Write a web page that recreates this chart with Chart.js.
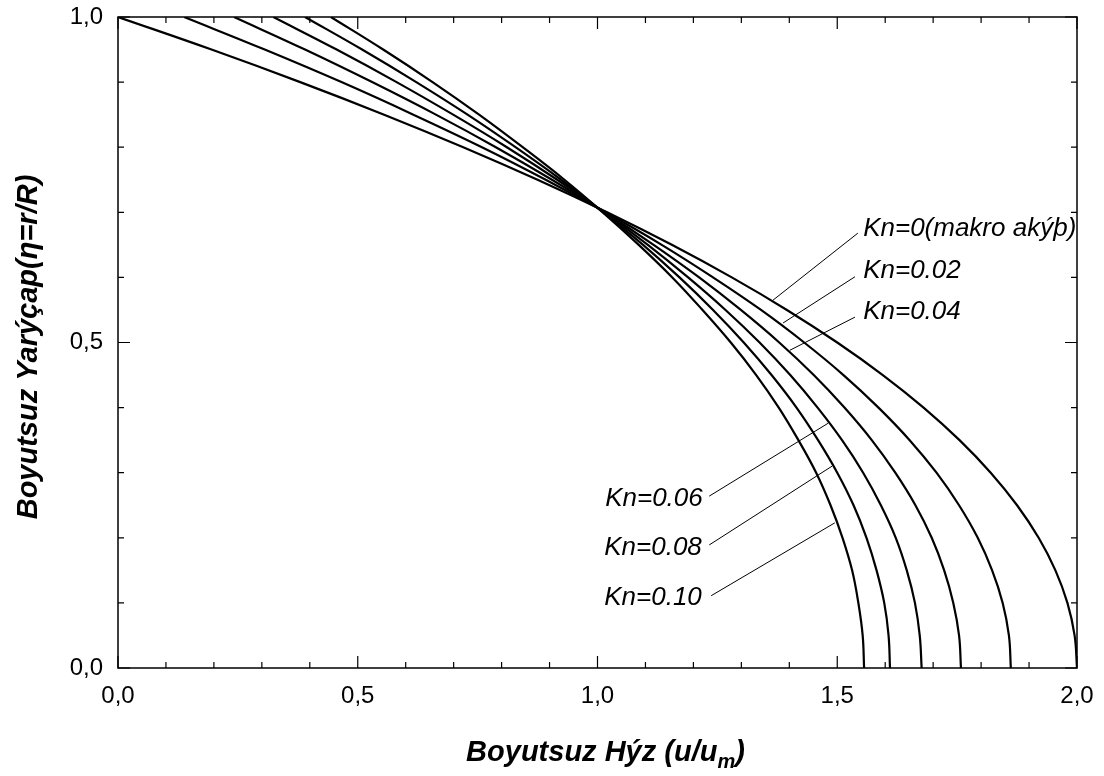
<!DOCTYPE html>
<html><head><meta charset="utf-8">
<script src="https://cdn.jsdelivr.net/npm/chart.js@4/dist/chart.umd.min.js"></script>
<style>html,body{margin:0;padding:0;background:#fff}#wrap{width:1104px;height:776px}</style>
</head><body><div id="wrap"><canvas id="c" width="1104" height="776"></canvas></div>
<script>
// ---- data ----
const eta = [0,0.05,0.10,0.15,0.20,0.25,0.30,0.35,0.40,0.45,0.50,0.55,0.60,0.65,0.70,0.75,0.80,0.85,0.90,0.95,1.00];
const u_kn000 = [2.000,1.995,1.980,1.955,1.920,1.875,1.820,1.755,1.680,1.595,1.500,1.395,1.280,1.155,1.020,0.875,0.720,0.555,0.380,0.195,0.000];
const u_kn002 = [1.862,1.858,1.845,1.823,1.793,1.754,1.707,1.651,1.586,1.513,1.431,1.341,1.241,1.134,1.017,0.892,0.759,0.616,0.466,0.306,0.138];
const u_kn004 = [1.758,1.754,1.742,1.723,1.697,1.663,1.621,1.572,1.515,1.451,1.379,1.299,1.212,1.117,1.015,0.905,0.788,0.663,0.530,0.390,0.242];
const u_kn006 = [1.676,1.672,1.662,1.645,1.622,1.591,1.554,1.510,1.459,1.402,1.338,1.267,1.189,1.105,1.014,0.916,0.811,0.699,0.581,0.456,0.324];
const u_kn008 = [1.610,1.607,1.598,1.582,1.561,1.534,1.500,1.460,1.415,1.363,1.305,1.241,1.171,1.095,1.012,0.924,0.829,0.729,0.622,0.509,0.390];
const u_kn010 = [1.556,1.553,1.544,1.531,1.511,1.486,1.456,1.419,1.378,1.331,1.278,1.219,1.156,1.086,1.011,0.931,0.844,0.753,0.656,0.553,0.444];
const seriesNames = ['Kn=0(makro akýþ)','Kn=0.02','Kn=0.04','Kn=0.06','Kn=0.08','Kn=0.10'];
const xTicks = [0,0.5,1,1.5,2];
const xTickText = ['0,0','0,5','1,0','1,5','2,0'];
const yTicks = [0,0.5,1];
const yTickText = ['0,0','0,5','1,0'];
const xTitleMain = 'Boyutsuz Hýz (u/u';
const xTitleSub = 'm';
const xTitleEnd = ')';
const yTitle = 'Boyutsuz Yarýçap(η=r/R)';

// annotation placement (data units): text anchor and leader line
const notes = [
  {i:0, tx:1.554, ty:0.676, x1:1.366, y1:0.565, x2:1.543, y2:0.668},
  {i:1, tx:1.554, ty:0.611, x1:1.387, y1:0.530, x2:1.537, y2:0.601},
  {i:2, tx:1.554, ty:0.548, x1:1.401, y1:0.488, x2:1.537, y2:0.539},
  {i:3, tx:1.016, ty:0.261, x1:1.233, y1:0.264, x2:1.481, y2:0.376},
  {i:4, tx:1.014, ty:0.186, x1:1.233, y1:0.189, x2:1.489, y2:0.310},
  {i:5, tx:1.014, ty:0.109, x1:1.237, y1:0.111, x2:1.495, y2:0.223}
];

const FONT = '"Liberation Sans", Arial, sans-serif';
const allU = [u_kn000,u_kn002,u_kn004,u_kn006,u_kn008,u_kn010];
const datasets = allU.map((u,k)=>({
  label: seriesNames[k],
  data: eta.map((e,i)=>({x:u[i], y:e})),
  borderColor:'#000', borderWidth:2.2, pointRadius:0, tension:0.4, fill:false
}));

const decor = {
  id:'decor',
  afterDraw(chart){
    const ctx = chart.ctx, a = chart.chartArea, sx = chart.scales.x, sy = chart.scales.y;
    ctx.save();
    ctx.strokeStyle='#000'; ctx.lineWidth=1.5;
    ctx.strokeRect(a.left, a.top, a.right-a.left, a.bottom-a.top);
    // ticks
    ctx.lineWidth=1.2;
    ctx.beginPath();
    for(let k=0;k<=20;k++){
      const v=k/10, px=sx.getPixelForValue(v), len=(k%5===0)?12:6;
      ctx.moveTo(px,a.bottom); ctx.lineTo(px,a.bottom-len);
      ctx.moveTo(px,a.top); ctx.lineTo(px,a.top+len);
    }
    for(let k=0;k<=10;k++){
      const v=k/10, py=sy.getPixelForValue(v), len=(k%5===0)?12:6;
      ctx.moveTo(a.left,py); ctx.lineTo(a.left+len,py);
      ctx.moveTo(a.right,py); ctx.lineTo(a.right-len,py);
    }
    ctx.stroke();
    // annotations
    ctx.lineWidth=1;
    ctx.fillStyle='#000';
    ctx.font='italic 26px '+FONT;
    ctx.textBaseline='middle';
    ctx.textAlign='left';
    notes.forEach(n=>{
      ctx.beginPath();
      ctx.moveTo(sx.getPixelForValue(n.x1), sy.getPixelForValue(n.y1));
      ctx.lineTo(sx.getPixelForValue(n.x2), sy.getPixelForValue(n.y2));
      ctx.stroke();
      ctx.fillText(seriesNames[n.i], sx.getPixelForValue(n.tx), sy.getPixelForValue(n.ty)+1);
    });
    // x title
    const big='italic bold 29px '+FONT, small='italic bold 20px '+FONT;
    ctx.textAlign='left'; ctx.textBaseline='alphabetic';
    ctx.font=big; const w1=ctx.measureText(xTitleMain).width, w3=ctx.measureText(xTitleEnd).width;
    ctx.font=small; const w2=ctx.measureText(xTitleSub).width;
    const cx=(a.left+a.right)/2+8, base=761;
    let x0=cx-(w1+w2+w3)/2;
    ctx.font=big; ctx.fillText(xTitleMain,x0,base);
    ctx.font=small; ctx.fillText(xTitleSub,x0+w1,base+7);
    ctx.font=big; ctx.fillText(xTitleEnd,x0+w1+w2,base);
    // y title
    ctx.save();
    ctx.translate(37,347);
    ctx.rotate(-Math.PI/2);
    ctx.textAlign='center';
    ctx.font=big;
    ctx.fillText(yTitle,0,0);
    ctx.restore();
    ctx.restore();
  }
};

function zeroPad(s){s.paddingTop=0;s.paddingBottom=0;s.paddingLeft=0;s.paddingRight=0;}

new Chart(document.getElementById('c'),{
  type:'line',
  data:{datasets},
  options:{
    responsive:false, animation:false, devicePixelRatio:1,
    layout:{padding:{left:0,right:27,top:17,bottom:0}},
    plugins:{legend:{display:false},tooltip:{enabled:false}},
    scales:{
      x:{type:'linear',min:0,max:2,
        afterBuildTicks(s){s.ticks=xTicks.map(v=>({value:v}));},
        afterFit(s){s.height=108;zeroPad(s);},
        grid:{display:false,drawTicks:false},border:{display:false},
        ticks:{autoSkip:false,maxRotation:0,padding:14,color:'#000',font:{family:FONT,size:24},
          callback:(v)=>{const i=xTicks.findIndex(t=>Math.abs(t-v)<1e-9);return i<0?'':xTickText[i];}}},
      y:{type:'linear',min:0,max:1,
        afterBuildTicks(s){s.ticks=yTicks.map(v=>({value:v}));},
        afterFit(s){s.width=118;zeroPad(s);},
        grid:{display:false,drawTicks:false},border:{display:false},
        ticks:{autoSkip:false,padding:15,color:'#000',font:{family:FONT,size:24},
          callback:(v)=>{const i=yTicks.findIndex(t=>Math.abs(t-v)<1e-9);return i<0?'':yTickText[i];}}}
    }
  },
  plugins:[decor]
});
</script></body></html>
